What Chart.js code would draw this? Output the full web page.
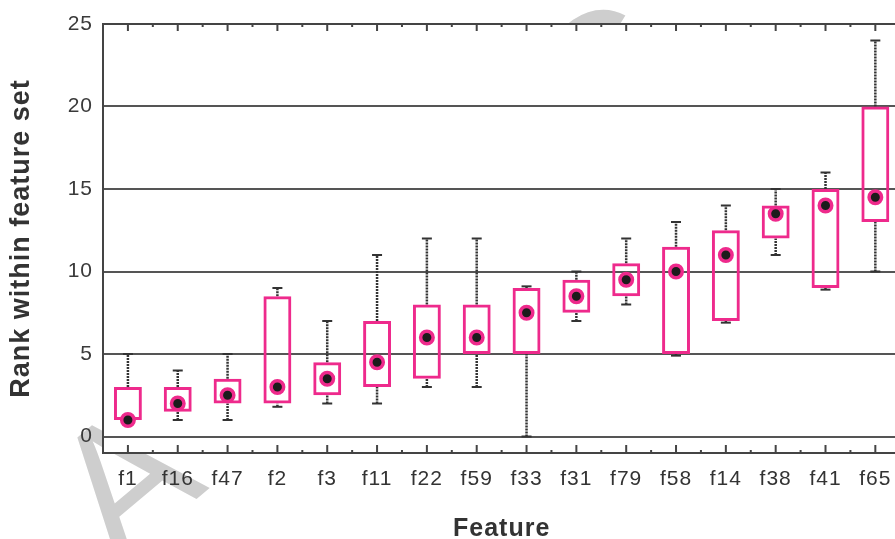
<!DOCTYPE html>
<html>
<head>
<meta charset="utf-8">
<script src="https://cdn.jsdelivr.net/npm/chart.js@4.4.1/dist/chart.umd.min.js"></script>
<style>
    html, body { margin: 0; padding: 0; background: #fff; overflow: hidden; width: 895px; height: 539px; }
    #wrap { position: relative; width: 910px; height: 539px; }
</style>
</head>
<body>
<div id="wrap"><canvas id="boxChart"></canvas></div>

<script>
    // features, in the order they are plotted
    const categories = ['f1', 'f16', 'f47', 'f2', 'f3', 'f11', 'f22', 'f59', 'f33', 'f31', 'f79', 'f58', 'f14', 'f38', 'f41', 'f65'];

    // rank statistics
    const whiskerLow  = [1, 1, 1, 1.8, 2, 2, 3, 3, 0, 7, 8, 4.9, 6.9, 11, 8.9, 10];
    const q1          = [1, 1.5, 2, 2, 2.5, 3, 3.5, 5, 5, 7.5, 8.5, 5, 7, 12, 9, 13];
    const median      = [1, 2, 2.5, 3, 3.5, 4.5, 6, 6, 7.5, 8.5, 9.5, 10, 11, 13.5, 14, 14.5];
    const q3          = [3, 3, 3.5, 8.5, 4.5, 7, 8, 8, 9, 9.5, 10.5, 11.5, 12.5, 14, 15, 20];
    const whiskerHigh = [5, 4, 5, 9, 7, 11, 12, 12, 9.1, 10, 12, 13, 14, 15, 16, 24];

    const yTicks = [0, 5, 10, 15, 20, 25];

    const PINK = '#ee2a8c';
    const DARK = '#444';

    // faint diagonal watermark behind the figure, plot area stays white
    const backdropPlugin = {
        id: 'backdrop',
        beforeDraw(chart) {
            const { ctx, chartArea: a } = chart;
            ctx.save();
            ctx.letterSpacing = '500px';
            ctx.translate(118, 565);
            ctx.rotate(-40 * Math.PI / 180);
            ctx.font = '180px "Liberation Sans"';
            ctx.fillStyle = '#cecece';
            ctx.textBaseline = 'alphabetic';
            ctx.textAlign = 'left';
            ctx.fillText('ACCEPTED MANUSCRIPT', 0, 0);
            ctx.restore();
            ctx.fillStyle = '#fff';
            ctx.fillRect(a.left, a.top, a.right - a.left, a.bottom - a.top);
            ctx.letterSpacing = '1px';
        }
    };

    // whiskers: dashed stems outside the box + solid caps
    const whiskerPlugin = {
        id: 'whiskers',
        beforeDatasetsDraw(chart) {
            const { ctx, scales: { x, y } } = chart;
            ctx.save();
            ctx.strokeStyle = '#333';
            ctx.lineWidth = 2.5;
            categories.forEach((c, i) => {
                const px = x.getPixelForValue(i);
                const segs = [[whiskerLow[i], q1[i]], [q3[i], whiskerHigh[i]]];
                segs.forEach(([a, b]) => {
                    if (a === b) return;
                    ctx.setLineDash([2, 1]);
                    ctx.beginPath();
                    ctx.moveTo(px, y.getPixelForValue(a));
                    ctx.lineTo(px, y.getPixelForValue(b));
                    ctx.stroke();
                });
                ctx.setLineDash([]);
                ctx.lineWidth = 2;
                [[whiskerLow[i], q1[i]], [whiskerHigh[i], q3[i]]].forEach(([end, edge]) => {
                    if (end === edge) return;
                    const py = y.getPixelForValue(end);
                    ctx.beginPath();
                    ctx.moveTo(px - 5, py);
                    ctx.lineTo(px + 5, py);
                    ctx.stroke();
                });
                ctx.lineWidth = 2.5;
            });
            ctx.restore();
        }
    };

    // frame top line and the small inward ticks on top / bottom
    const framePlugin = {
        id: 'frame',
        afterDraw(chart) {
            const { ctx, chartArea: a, scales: { x } } = chart;
            ctx.save();
            ctx.strokeStyle = DARK;
            ctx.lineWidth = 2;
            ctx.beginPath();
            ctx.moveTo(a.left, a.top);
            ctx.lineTo(a.right, a.top);
            ctx.stroke();
            const half = (x.getPixelForValue(1) - x.getPixelForValue(0)) / 2;
            categories.forEach((c, i) => {
                const px = x.getPixelForValue(i);
                ctx.beginPath();
                ctx.moveTo(px, a.bottom); ctx.lineTo(px, a.bottom - 8);
                ctx.moveTo(px, a.top); ctx.lineTo(px, a.top + 7);
                ctx.moveTo(px + half, a.bottom); ctx.lineTo(px + half, a.bottom - 3);
                ctx.moveTo(px + half, a.top); ctx.lineTo(px + half, a.top + 3);
                ctx.stroke();
            });
            ctx.restore();
        }
    };

    new Chart(document.getElementById('boxChart'), {
        data: {
            labels: categories,
            datasets: [
                {
                    type: 'line',
                    label: 'Median',
                    data: median,
                    showLine: false,
                    pointRadius: 6.25,
                    pointBorderWidth: 3.5,
                    pointBackgroundColor: '#1c1c1c',
                    pointBorderColor: PINK,
                    order: 0
                },
                {
                    type: 'bar',
                    label: 'IQR',
                    data: categories.map((c, i) => [q1[i], q3[i]]),
                    backgroundColor: 'rgba(255,255,255,0)',
                    borderColor: PINK,
                    borderWidth: 3,
                    borderSkipped: false,
                    barPercentage: 0.56,
                    categoryPercentage: 1,
                    order: 1
                }
            ]
        },
        options: {
            responsive: true,
            maintainAspectRatio: false,
            animation: false,
            layout: { padding: { top: 24, right: 3, left: 0, bottom: 0 } },
            plugins: {
                legend: { display: false },
                tooltip: { enabled: false }
            },
            scales: {
                x: {
                    offset: true,
                    grid: { drawOnChartArea: false, drawTicks: false },
                    border: { display: true, color: DARK, width: 2 },
                    ticks: { color: '#333', font: { family: 'Liberation Sans', size: 21 }, padding: 14 },
                    title: {
                        display: true, text: 'Feature', color: '#333',
                        font: { family: 'Liberation Sans', size: 25, weight: 'bold', lineHeight: 0.8 },
                        padding: { top: 0, bottom: 0 }
                    },
                    afterFit: s => { s.height = 86; }
                },
                y: {
                    min: -1,
                    max: 25,
                    afterBuildTicks: s => { s.ticks = yTicks.map(v => ({ value: v })); },
                    grid: { color: '#555', lineWidth: 2, borderDash: [1, 1], drawTicks: false },
                    border: { display: true, color: DARK, width: 2 },
                    ticks: { color: '#3a3a3a', font: { family: 'Liberation Sans', size: 21 }, padding: 10 },
                    title: {
                        display: true, text: 'Rank within feature set', color: '#333',
                        font: { family: 'Liberation Sans', size: 27, weight: 'bold', lineHeight: 1.2 },
                        padding: { top: 5, bottom: 0 }
                    },
                    afterFit: s => { s.width = 103; }
                }
            }
        },
        plugins: [backdropPlugin, whiskerPlugin, framePlugin]
    });
</script>
</body>
</html>
